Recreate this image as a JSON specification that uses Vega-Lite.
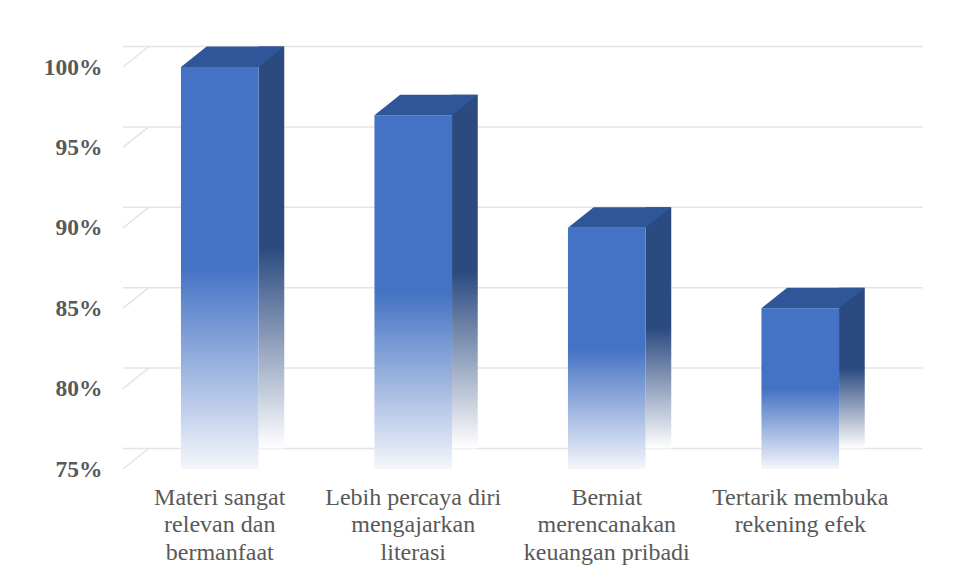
{
  "$schema": "https://vega.github.io/schema/vega-lite/v6.json",
  "width": 774,
  "height": 402,
  "autosize": {"type": "none"},
  "padding": {"left": 123, "top": 67, "right": 59, "bottom": 109},
  "background": "white",
  "config": {"view": {"stroke": null}, "font": "Liberation Serif"},
  "datasets": {
    "bars": [
      {"kategori": "Materi sangat relevan dan bermanfaat", "persen": 100},
      {"kategori": "Lebih percaya diri mengajarkan literasi", "persen": 97},
      {"kategori": "Berniat merencanakan keuangan pribadi", "persen": 90},
      {"kategori": "Tertarik membuka rekening efek", "persen": 85}
    ],
    "grid": [{"v": 75}, {"v": 80}, {"v": 85}, {"v": 90}, {"v": 95}, {"v": 100}]
  },
  "layer": [
    {
      "data": {"name": "grid"},
      "mark": {"type": "rule", "color": "#e4e4e4", "strokeWidth": 1.5, "xOffset": 25.7, "yOffset": -20.5},
      "encoding": {
        "y": {
          "field": "v",
          "type": "quantitative",
          "scale": {"domain": [75, 100], "nice": false, "zero": false},
          "axis": {
            "values": [75, 80, 85, 90, 95, 100],
            "labelExpr": "datum.value + '%'",
            "labelFontWeight": "bold",
            "labelFontSize": 23.5,
            "labelColor": "#595959",
            "labelFont": "Liberation Serif",
            "labelPadding": 21,
            "grid": false,
            "ticks": false,
            "domain": false,
            "title": null
          }
        }
      }
    },
    {
      "data": {"name": "grid"},
      "mark": {"type": "rule", "color": "#e4e4e4", "strokeWidth": 1.5, "y2Offset": -20.5},
      "encoding": {
        "x": {"value": 0},
        "x2": {"value": 25.7},
        "y": {"field": "v", "type": "quantitative"},
        "y2": {"field": "v"}
      }
    },
    {
      "data": {"name": "bars"},
      "mark": {
        "type": "bar",
        "width": 25.7,
        "xOffset": 51.65,
        "yOffset": -20.5,
        "y2Offset": -20.5,
        "color": {
          "gradient": "linear", "x1": 0, "y1": 0, "x2": 0, "y2": 1,
          "stops": [
            {"offset": 0, "color": "#2b4a80"},
            {"offset": 0.5, "color": "#2b4a80"},
            {"offset": 1, "color": "#ffffff"}
          ]
        }
      },
      "encoding": {
        "x": {
          "field": "kategori",
          "type": "nominal",
          "sort": null,
          "scale": {"paddingInner": 0, "paddingOuter": 0},
          "axis": {
            "labelExpr": "datum.value == 'Materi sangat relevan dan bermanfaat' ? ['Materi sangat', 'relevan dan', 'bermanfaat'] : datum.value == 'Lebih percaya diri mengajarkan literasi' ? ['Lebih percaya diri', 'mengajarkan', 'literasi'] : datum.value == 'Berniat merencanakan keuangan pribadi' ? ['Berniat', 'merencanakan', 'keuangan pribadi'] : ['Tertarik membuka', 'rekening efek']",
            "labelAngle": 0,
            "labelFontSize": 24,
            "labelColor": "#595959",
            "labelFont": "Liberation Serif",
            "labelPadding": 16,
            "labelLineHeight": 27.5,
            "labelLimit": 0,
            "ticks": false,
            "domain": false,
            "grid": false,
            "title": null
          }
        },
        "y": {"field": "persen", "type": "quantitative"},
        "y2": {"datum": 75}
      }
    },
    {
      "data": {"name": "bars"},
      "mark": {
        "type": "bar",
        "width": 77.6,
        "color": {
          "gradient": "linear", "x1": 0, "y1": 0, "x2": 0, "y2": 1,
          "stops": [
            {"offset": 0, "color": "#4472c4"},
            {"offset": 0.5, "color": "#4472c4"},
            {"offset": 1, "color": "#f4f6fb"}
          ]
        }
      },
      "encoding": {
        "x": {"field": "kategori", "type": "nominal", "sort": null},
        "y": {"field": "persen", "type": "quantitative"},
        "y2": {"datum": 75}
      }
    },
    {
      "data": {"name": "bars"},
      "mark": {
        "type": "point",
        "shape": "M-0.776,0L0.776,0L1.29,-0.41L-0.262,-0.41Z",
        "size": 10000,
        "filled": true,
        "opacity": 1,
        "strokeWidth": 0,
        "color": "#30569a"
      },
      "encoding": {
        "x": {"field": "kategori", "type": "nominal", "sort": null},
        "y": {"field": "persen", "type": "quantitative"}
      }
    }
  ]
}
